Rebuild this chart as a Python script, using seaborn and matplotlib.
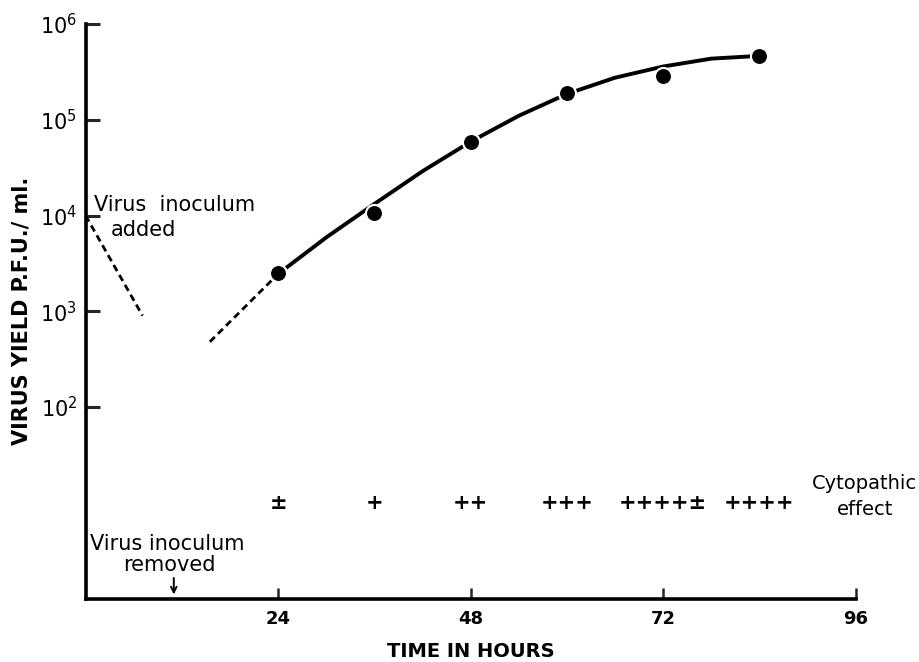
import matplotlib
matplotlib.use('Agg')
import matplotlib.pyplot as plt
import seaborn as sns
import pandas as pd

# 1. DATOS
hours = [24, 36, 48, 60, 72, 84]
virus_yield = [2.5e3, 1.05e4, 5.9e4, 1.9e5, 2.9e5, 4.6e5]

# curva ajustada (puntos leidos sobre la linea continua)
curve_hours = [24, 30, 36, 42, 48, 54, 60, 66, 72, 78, 84]
curve_yield = [2.45e3, 5.9e3, 1.32e4, 2.9e4, 5.9e4, 1.1e5, 1.86e5, 2.75e5, 3.6e5, 4.35e5, 4.65e5]

# extrapolacion discontinua
dash_hours = [15.5, 24]
dash_yield = [4.8e2, 2.45e3]

# inoculo anadido
inoc_hours = [0, 7.1]
inoc_yield = [1e4, 9e2]

# efecto citopatico
cpe_hours = [24, 36, 48, 60, 72, 84]
cpe_labels = ['±', '+', '++', '+++', '++++±', '++++']

y_ticks = [1e2, 1e3, 1e4, 1e5, 1e6]
y_ticklabels = ['10$^2$', '10$^3$', '10$^4$', '10$^5$', '10$^6$']
x_ticks = [24, 48, 72, 96]

# 2. FIGURA
sns.set_style('ticks')
plt.rcParams['font.family'] = ['DejaVu Sans']
plt.rcParams['mathtext.fontset'] = 'dejavusans'
plt.rcParams['text.color'] = 'black'

fig = plt.figure(figsize=(9.2, 6.62), dpi=100)
ax = fig.add_axes([0.093, 0.0959, 0.837, 0.8678])

df_curve = pd.DataFrame({'h': curve_hours, 'y': curve_yield})
sns.lineplot(data=df_curve, x='h', y='y', ax=ax, color='black', lw=2.8,
             solid_capstyle='round', solid_joinstyle='round')
sns.lineplot(x=dash_hours, y=dash_yield, ax=ax, color='black', lw=2.0,
             linestyle=(0, (2.5, 1.6)))
sns.lineplot(x=inoc_hours, y=inoc_yield, ax=ax, color='black', lw=2.0,
             linestyle=(0, (2.5, 1.6)))
sns.scatterplot(x=hours, y=virus_yield, ax=ax, color='black', s=150,
                edgecolor='white', linewidth=1.5, zorder=5)

ax.set_yscale('log')
ax.set_xlim(0, 96)
ax.set_ylim(1, 1e6)
ax.set_yticks(y_ticks)
ax.set_yticklabels(y_ticklabels, fontsize=15, color='black')
ax.minorticks_off()
ax.set_xticks(x_ticks)
ax.set_xticklabels([str(t) for t in x_ticks], fontsize=13, fontweight='bold', color='black')
ax.tick_params(axis='y', direction='in', length=10, width=2.2, pad=6)
ax.tick_params(axis='x', direction='in', length=8, width=1.8, pad=8)

sns.despine(ax=ax)
for s in ['left', 'bottom']:
    ax.spines[s].set_linewidth(2.6)
    ax.spines[s].set_color('black')

ax.set_xlabel('TIME IN HOURS', fontsize=14, fontweight='bold', labelpad=10, color='black')
ax.set_ylabel('VIRUS YIELD P.F.U./ ml.', fontsize=15, fontweight='bold', labelpad=6, color='black')

# anotaciones
for h, lab in zip(cpe_hours, cpe_labels):
    ax.text(h, 10, lab, ha='center', va='center', fontsize=15, fontweight='bold')
ax.text(90.6, 16, 'Cytopathic', ha='left', va='center', fontsize=14)
ax.text(97.2, 8.6, 'effect', ha='center', va='center', fontsize=14)

ax.text(1.0, 1.3e4, 'Virus  inoculum', ha='left', va='center', fontsize=15)
ax.text(7.2, 7.0e3, 'added', ha='center', va='center', fontsize=15)

ax.text(10.2, 3.7, 'Virus inoculum', ha='center', va='center', fontsize=15)
ax.text(10.4, 2.25, 'removed', ha='center', va='center', fontsize=15)
ax.annotate('', xy=(11.0, 1.03), xytext=(11.0, 1.75),
            arrowprops=dict(arrowstyle='->', color='black', lw=1.4))

plt.savefig('out.png', dpi=100)
